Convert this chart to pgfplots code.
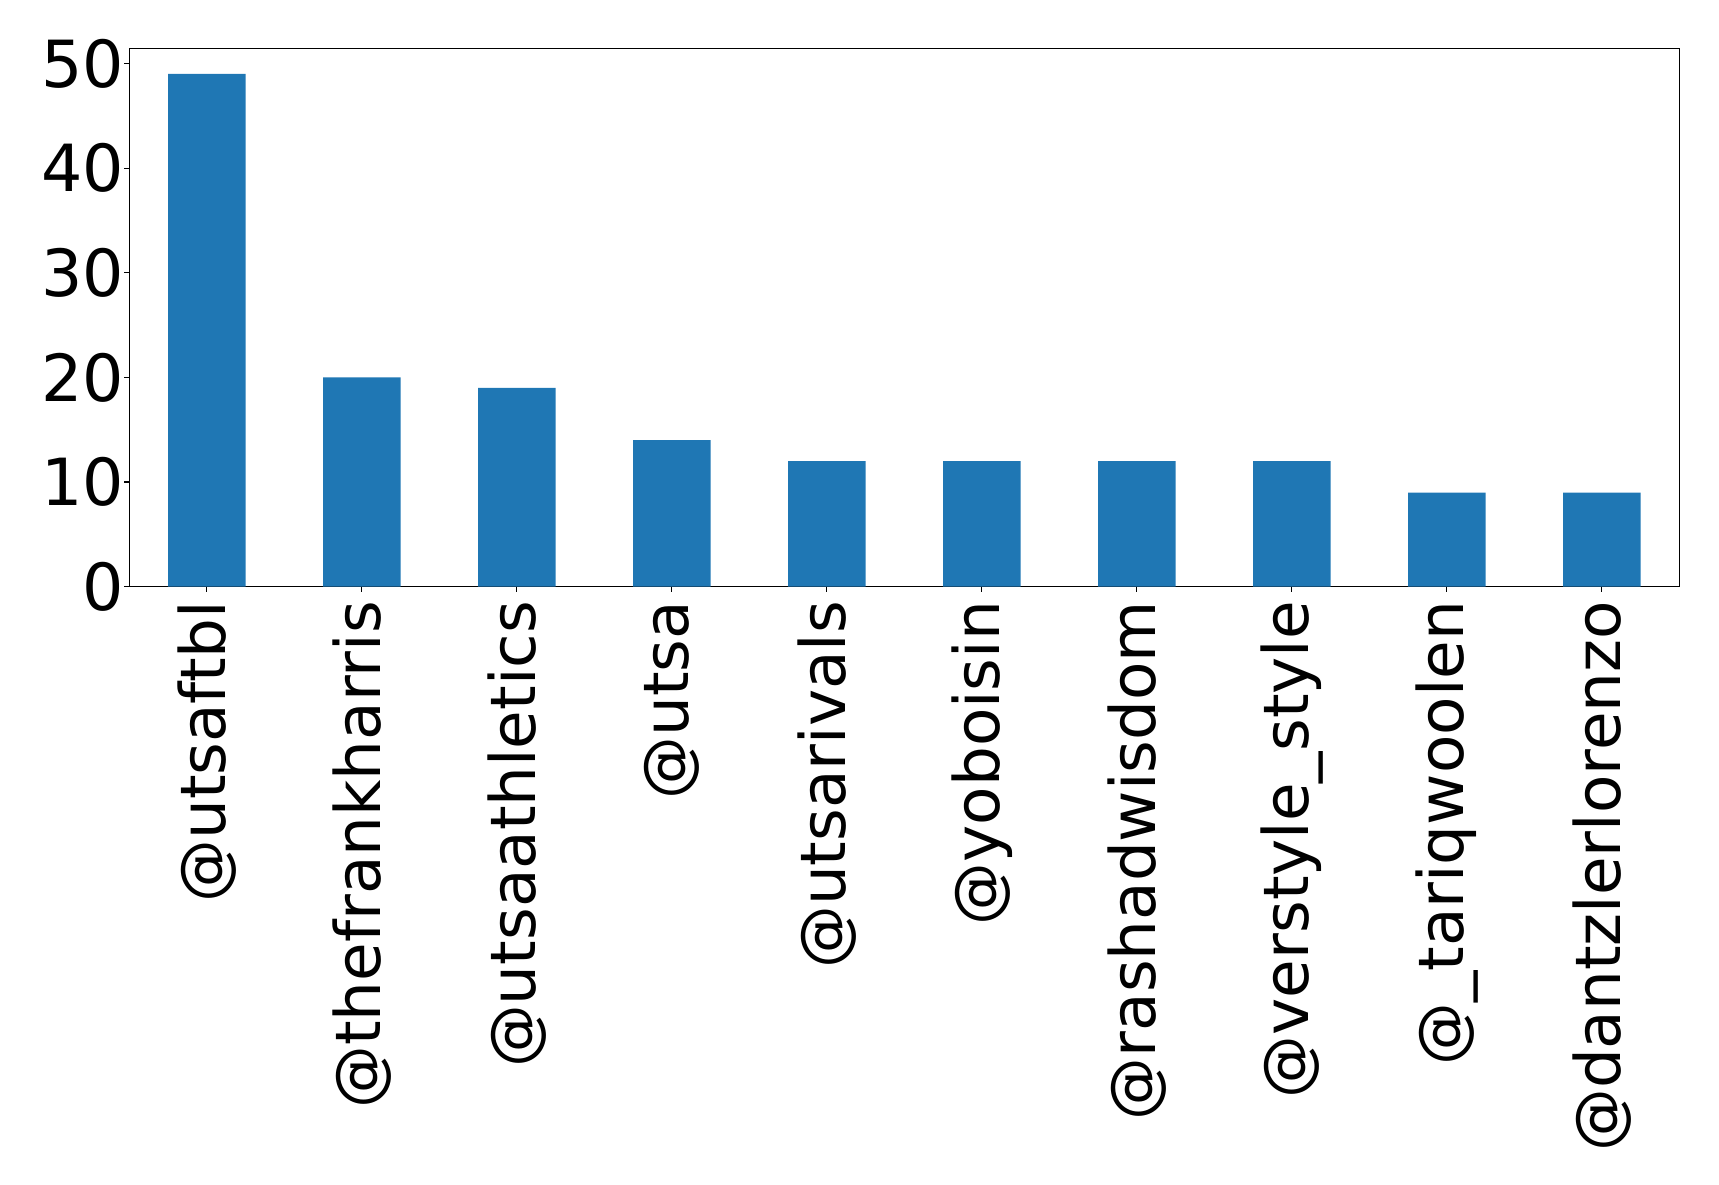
\documentclass[border=0pt]{standalone}
\usepackage{fontspec}
\setmainfont{DejaVu Sans}
\usepackage{pgfplots}
\pgfplotsset{compat=1.18}
\definecolor{barblue}{HTML}{1F77B4}

\begin{document}
\begin{tikzpicture}
  % page size (1 px = 0.5 pt)
  \useasboundingbox (-64.65pt,-298.65pt) rectangle (794.85pt,293.35pt);
  \begin{axis}[
    at={(0,0)}, anchor=south west,
    scale only axis,
    width=775pt, height=269.2pt,
    xmin=-0.5, xmax=9.5,
    ymin=0, ymax=51.45,
    ytick={0,10,20,30,40,50},
    xtick={0,1,2,3,4,5,6,7,8,9},
    xticklabels={@utsaftbl, @thefrankharris, @utsaathletics, @utsa, @utsarivals,
      @yoboisin, @rashadwisdom, @verstyle\_style, @\_tariqwoolen, @dantzlerlorenzo},
    xtick pos=bottom, ytick pos=left,
    tick align=outside,
    major tick length=2.5pt,
    tick style={black, line width=0.6pt},
    axis line style={line width=0.6pt},
    /pgf/number format/assume math mode=true,
    xticklabel style={font=\fontsize{31.4}{37}\selectfont,
      yshift=-4.5pt, rotate=90, anchor=east, inner sep=0pt},
    yticklabel style={font=\fontsize{32.5}{38}\selectfont,
      anchor=east, inner sep=0pt},
    ]
    \addplot[ybar, bar width=0.5, fill=barblue, draw=none]
    coordinates {
      (0,49) (1,20) (2,19) (3,14) (4,12)
      (5,12) (6,12) (7,12) (8,9) (9,9)
    };
  \end{axis}
\end{tikzpicture}
\end{document}
